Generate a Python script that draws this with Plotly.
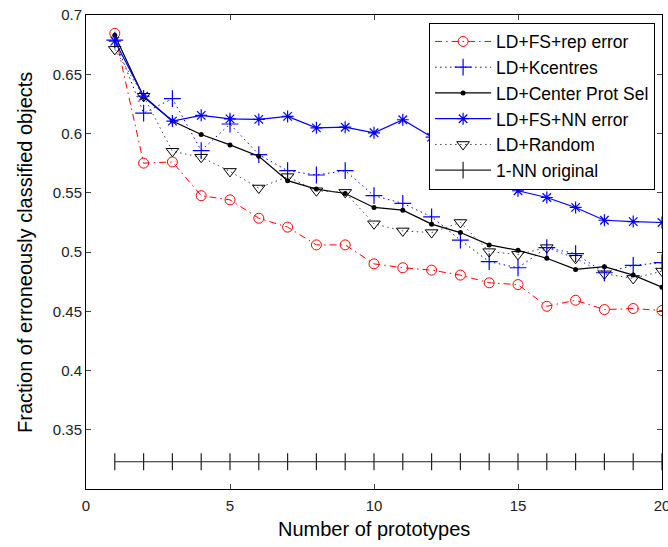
import plotly.graph_objects as go

n_proto = list(range(1, 21))

rep_error = [0.6845, 0.575, 0.576, 0.5475, 0.544, 0.5285, 0.521, 0.506, 0.506, 0.490,
             0.4867, 0.4847, 0.4805, 0.474, 0.4725, 0.4542, 0.4593, 0.4514, 0.4523, 0.4506]
kcentres = [0.6788, 0.6172, 0.6294, 0.5856, 0.608, 0.5822, 0.5686, 0.565, 0.5686, 0.5475,
            0.541, 0.5297, 0.510, 0.4918, 0.4867, 0.5037, 0.4986, 0.4825, 0.4887, 0.491]
center_prot = [0.683, 0.6308, 0.6105, 0.5992, 0.5904, 0.5808, 0.5602, 0.5531, 0.5494, 0.5376,
               0.5353, 0.5235, 0.5164, 0.506, 0.5014, 0.4947, 0.4853, 0.4876, 0.4805, 0.4703]
nn_error = [0.678, 0.6316, 0.6105, 0.6153, 0.6124, 0.6119, 0.6144, 0.6048, 0.6053, 0.6006,
            0.6116, 0.597, 0.585, 0.572, 0.5517, 0.546, 0.5376, 0.5268, 0.5257, 0.5249]
random_sel = [0.671, 0.6314, 0.585, 0.580, 0.568, 0.554, 0.5636, 0.5517, 0.5503, 0.5238,
              0.5178, 0.5164, 0.5249, 0.5003, 0.498, 0.5037, 0.4947, 0.4816, 0.4777, 0.4839]
nn_original = [0.323] * 20

y_ticks = [0.35, 0.4, 0.45, 0.5, 0.55, 0.6, 0.65, 0.7]
y_tick_text = ["0.35", "0.4", "0.45", "0.5", "0.55", "0.6", "0.65", "0.7"]
x_ticks = [0, 5, 10, 15, 20]

FONT = "Liberation Sans, Arial, sans-serif"

fig = go.Figure()
fig.add_trace(go.Scatter(
    x=n_proto, y=rep_error, name="LD+FS+rep error", mode="lines+markers",
    line=dict(color="#ff0000", width=1, dash="7px,4px,1.5px,4px"),
    marker=dict(symbol="circle-open", size=10, color="#ff0000", line=dict(width=1, color="#ff0000"))))
fig.add_trace(go.Scatter(
    x=n_proto, y=kcentres, name="LD+Kcentres", mode="lines+markers",
    line=dict(color="#0000ff", width=1, dash="1.5px,3.5px"),
    marker=dict(symbol="cross-thin-open", size=12, color="#0000ff", line=dict(width=1.2, color="#0000ff"))))
fig.add_trace(go.Scatter(
    x=n_proto, y=center_prot, name="LD+Center Prot Sel", mode="lines+markers",
    line=dict(color="#000000", width=1.2),
    marker=dict(symbol="circle", size=5, color="#000000")))
fig.add_trace(go.Scatter(
    x=n_proto, y=nn_error, name="LD+FS+NN error", mode="lines+markers",
    line=dict(color="#0000ff", width=1.2),
    marker=dict(symbol="asterisk-open", size=10, color="#0000ff", line=dict(width=1.2, color="#0000ff"))))
fig.add_trace(go.Scatter(
    x=n_proto, y=random_sel, name="LD+Random", mode="lines+markers",
    line=dict(color="#444444", width=1, dash="1.5px,3.5px"),
    marker=dict(symbol="triangle-down-open", size=11, color="#000000", line=dict(width=1, color="#000000"))))
fig.add_trace(go.Scatter(
    x=n_proto, y=nn_original, name="1-NN original", mode="lines+markers",
    line=dict(color="#222222", width=1.2),
    marker=dict(symbol="line-ns-open", size=12, color="#222222", line=dict(width=1.2, color="#222222"))))

fig.update_layout(
    width=668, height=547,
    margin=dict(l=86, r=6, t=15, b=58, autoexpand=False),
    paper_bgcolor="white", plot_bgcolor="white",
    font=dict(family=FONT, color="black", size=15),
    showlegend=True,
    legend=dict(x=0.988, y=0.984, xanchor="right", yanchor="top",
                bgcolor="white", bordercolor="black", borderwidth=1,
                font=dict(family=FONT, size=17.5, color="black"),
                tracegroupgap=0, itemwidth=56),
    xaxis=dict(range=[0, 20], tickvals=x_ticks, ticks="inside", ticklen=5,
               showline=True, linecolor="black", linewidth=1, mirror="ticks",
               showgrid=False, zeroline=False, automargin=False, ticklabeloverflow="allow",
               ticklabelstandoff=3,
               tickfont=dict(size=15, family=FONT, color="#222222")),
    yaxis=dict(range=[0.3, 0.7], tickvals=y_ticks, ticktext=y_tick_text, ticks="inside", ticklen=5,
               showline=True, linecolor="black", linewidth=1, mirror="ticks",
               showgrid=False, zeroline=False, automargin=False, ticklabeloverflow="allow",
               tickfont=dict(size=15, family=FONT, color="#222222")),
    annotations=[
        dict(text="Number of prototypes", xref="paper", yref="paper", x=0.5, y=-0.084,
             xanchor="center", yanchor="middle", showarrow=False,
             font=dict(size=20, family=FONT, color="black")),
        dict(text="Fraction of erroneously classified objects", xref="paper", yref="paper",
             x=-0.106, y=0.5, xanchor="center", yanchor="middle", textangle=-90, showarrow=False,
             font=dict(size=20, family=FONT, color="black")),
    ],
)

fig.write_html("out.html", config={"displayModeBar": False},
               post_script="document.body.style.margin='0';")
